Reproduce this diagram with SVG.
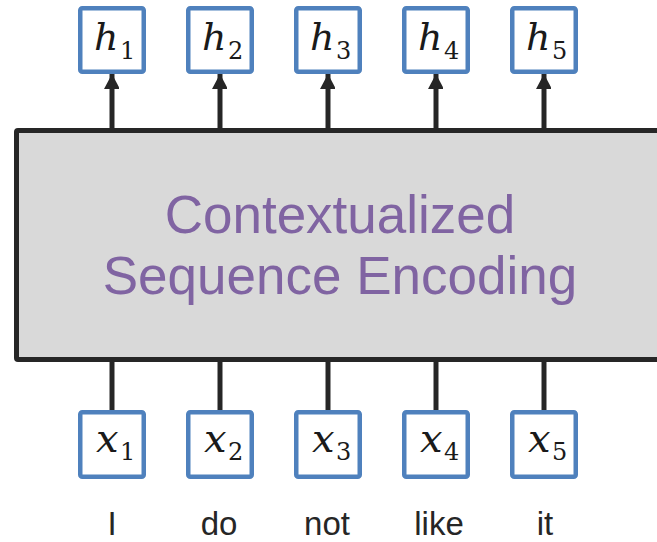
<svg xmlns="http://www.w3.org/2000/svg" width="657" height="542" viewBox="0 0 657 542">
  <defs>
    <marker id="arrowhead" markerUnits="userSpaceOnUse" markerWidth="17" markerHeight="15" refX="15" refY="8" orient="auto">
      <path d="M0,0 L15,8 L0,16 Z" fill="#262626"/>
    </marker>
  </defs>
  <style>
    .vec { fill: #ffffff; stroke: #4f81bd; stroke-width: 4.5; }
    .math { font-family: "DejaVu Serif", "Liberation Serif", serif; fill: #1a1a1a; }
    .hv { font-size: 38px; font-style: italic; }
    .hs { font-size: 24px; }
    .xv { font-size: 40px; font-style: italic; }
    .xs { font-size: 24px; }
    .word { font-family: "Liberation Sans", Arial, sans-serif; font-size: 33px; fill: #262626; text-anchor: middle; }
    .conn { stroke: #262626; stroke-width: 5; fill: none; }
    .enc { fill: #d9d9d9; stroke: #262626; stroke-width: 5; }
    .enc-label { font-family: "Liberation Sans", Arial, sans-serif; font-size: 53px; fill: #8064a2; text-anchor: middle; }
  </style>

  <!-- encoder block, open to the right edge -->
  <g id="encoder">
    <rect class="enc" x="16.5" y="130.5" width="680" height="229" rx="1.5"/>
    <text class="enc-label" x="340" y="233">Contextualized</text>
    <text class="enc-label" x="340" y="294">Sequence Encoding</text>
  </g>

  <!-- connectors -->
  <g id="connectors">
    <line class="conn" x1="112" y1="128" x2="112" y2="74" marker-end="url(#arrowhead)"/>
    <line class="conn" x1="220" y1="128" x2="220" y2="74" marker-end="url(#arrowhead)"/>
    <line class="conn" x1="328" y1="128" x2="328" y2="74" marker-end="url(#arrowhead)"/>
    <line class="conn" x1="436" y1="128" x2="436" y2="74" marker-end="url(#arrowhead)"/>
    <line class="conn" x1="544" y1="128" x2="544" y2="74" marker-end="url(#arrowhead)"/>
    <line class="conn" x1="112" y1="361" x2="112" y2="411"/>
    <line class="conn" x1="220" y1="361" x2="220" y2="411"/>
    <line class="conn" x1="328" y1="361" x2="328" y2="411"/>
    <line class="conn" x1="436" y1="361" x2="436" y2="411"/>
    <line class="conn" x1="544" y1="361" x2="544" y2="411"/>
  </g>

  <!-- output vectors -->
  <g id="h1"><rect class="vec" x="80.25" y="8.25" width="63.5" height="63.5" rx="2"/>
    <text class="math"><tspan class="hv" x="94" y="50">h</tspan><tspan class="hs" x="120" y="59">1</tspan></text></g>
  <g id="h2"><rect class="vec" x="188.25" y="8.25" width="63.5" height="63.5" rx="2"/>
    <text class="math"><tspan class="hv" x="202" y="50">h</tspan><tspan class="hs" x="228" y="59">2</tspan></text></g>
  <g id="h3"><rect class="vec" x="296.25" y="8.25" width="63.5" height="63.5" rx="2"/>
    <text class="math"><tspan class="hv" x="310" y="50">h</tspan><tspan class="hs" x="336" y="59">3</tspan></text></g>
  <g id="h4"><rect class="vec" x="404.25" y="8.25" width="63.5" height="63.5" rx="2"/>
    <text class="math"><tspan class="hv" x="418" y="50">h</tspan><tspan class="hs" x="444" y="59">4</tspan></text></g>
  <g id="h5"><rect class="vec" x="512.25" y="8.25" width="63.5" height="63.5" rx="2"/>
    <text class="math"><tspan class="hv" x="526" y="50">h</tspan><tspan class="hs" x="552" y="59">5</tspan></text></g>

  <!-- input vectors -->
  <g id="x1"><rect class="vec" x="80.25" y="412.25" width="63.5" height="64.5" rx="2"/>
    <text class="math"><tspan class="xv" x="96" y="452">x</tspan><tspan class="xs" x="120" y="460">1</tspan></text></g>
  <g id="x2"><rect class="vec" x="188.25" y="412.25" width="63.5" height="64.5" rx="2"/>
    <text class="math"><tspan class="xv" x="204" y="452">x</tspan><tspan class="xs" x="228" y="460">2</tspan></text></g>
  <g id="x3"><rect class="vec" x="296.25" y="412.25" width="63.5" height="64.5" rx="2"/>
    <text class="math"><tspan class="xv" x="312" y="452">x</tspan><tspan class="xs" x="336" y="460">3</tspan></text></g>
  <g id="x4"><rect class="vec" x="404.25" y="412.25" width="63.5" height="64.5" rx="2"/>
    <text class="math"><tspan class="xv" x="420" y="452">x</tspan><tspan class="xs" x="444" y="460">4</tspan></text></g>
  <g id="x5"><rect class="vec" x="512.25" y="412.25" width="63.5" height="64.5" rx="2"/>
    <text class="math"><tspan class="xv" x="528" y="452">x</tspan><tspan class="xs" x="552" y="460">5</tspan></text></g>

  <!-- input tokens -->
  <g id="tokens">
    <text class="word" x="112" y="535">I</text>
    <text class="word" x="219" y="535">do</text>
    <text class="word" x="327" y="535">not</text>
    <text class="word" x="439" y="535">like</text>
    <text class="word" x="545" y="535">it</text>
  </g>
</svg>
